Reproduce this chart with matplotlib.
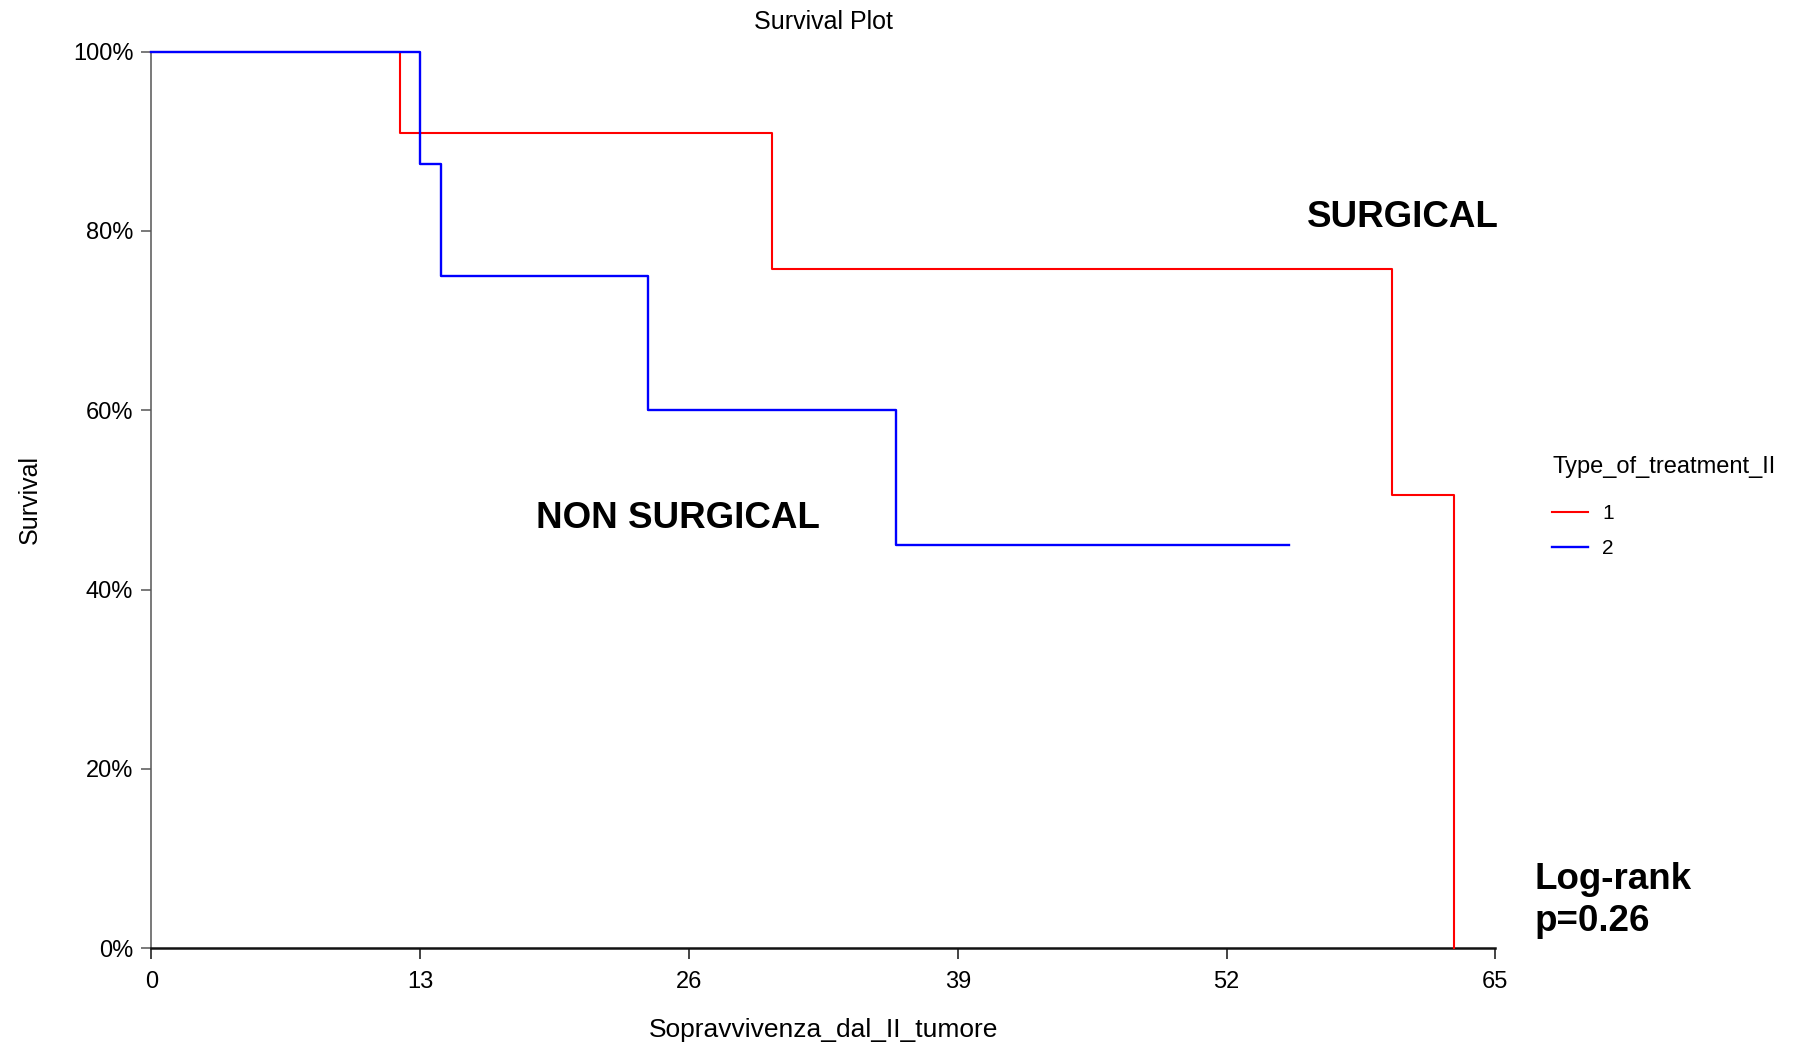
import matplotlib

matplotlib.use("Agg")

import matplotlib.pyplot as plt
from matplotlib.ticker import PercentFormatter

plt.rcParams["font.family"] = ["Liberation Sans", "DejaVu Sans"]

# Kaplan-Meier step estimates per treatment group (months, survival fraction)
surgical_times = [0, 12, 30, 60, 63]
surgical_surv = [1.0, 0.909, 0.758, 0.505, 0.0]
nonsurgical_times = [0, 13, 14, 24, 36, 55]
nonsurgical_surv = [1.0, 0.875, 0.75, 0.60, 0.45, 0.45]

group_labels = ["1", "2"]
x_ticks = [0, 13, 26, 39, 52, 65]
y_ticks = [0, 0.2, 0.4, 0.6, 0.8, 1.0]

fig = plt.figure(figsize=(17.98, 10.46), dpi=100)
ax = fig.add_axes([0.0842, 0.0934, 0.7475, 0.8573])

ax.step(surgical_times, surgical_surv, where="post", color="#ff0000",
        linewidth=1.5, label=group_labels[0], clip_on=False, zorder=3)
ax.step(nonsurgical_times, nonsurgical_surv, where="post", color="#0000ff",
        linewidth=1.7, label=group_labels[1], clip_on=False, zorder=4)

ax.set_xlim(0, 65)
ax.set_ylim(0, 1)
ax.set_xticks(x_ticks)
ax.set_yticks(y_ticks)
ax.yaxis.set_major_formatter(PercentFormatter(xmax=1, decimals=0))

for side in ("top", "right"):
    ax.spines[side].set_visible(False)
ax.spines["left"].set_color("#555555")
ax.spines["left"].set_linewidth(1.1)
ax.spines["bottom"].set_color("#111111")
ax.spines["bottom"].set_linewidth(1.8)
ax.tick_params(axis="y", direction="out", length=7, width=1.1, color="#555555",
               pad=6, labelsize=17)
ax.tick_params(axis="x", direction="out", length=8, width=1.1, color="#111111",
               pad=8, labelsize=17)

ax.set_title("Survival Plot", fontsize=18, pad=16)
ax.set_xlabel("Sopravvivenza_dal_II_tumore", fontsize=19, labelpad=18)
ax.set_ylabel("Survival", fontsize=18, labelpad=22)

ax.text(55.9, 0.815, "SURGICAL", fontsize=26.5, fontweight="bold", va="center", ha="left")
ax.text(18.6, 0.479, "NON SURGICAL", fontsize=26.5, fontweight="bold", va="center", ha="left")
ax.text(66.9, 0.053, "Log-rank\np=0.26", fontsize=26.5, fontweight="bold",
        va="center", ha="left", clip_on=False, linespacing=1.25)

leg = ax.legend(title="Type_of_treatment_II", loc="upper left",
                bbox_to_anchor=(0.853, 0.582), bbox_transform=fig.transFigure,
                frameon=False, fontsize=15, title_fontsize=17,
                handlelength=1.7, handletextpad=0.7, labelspacing=0.75,
                alignment="left")
leg._legend_box.sep = 19

fig.savefig("out.png", dpi=100)
plt.close(fig)
